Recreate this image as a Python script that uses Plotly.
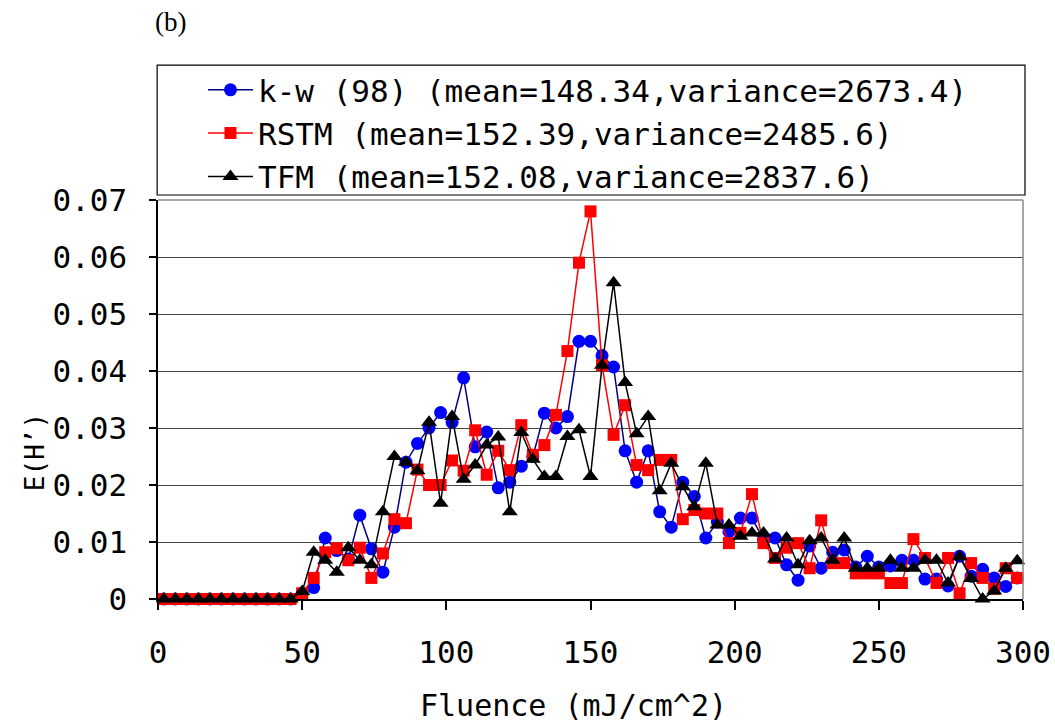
import plotly.graph_objects as go

fluence = [2, 6, 10, 14, 18, 22, 26, 30, 34, 38, 42, 46, 50, 54, 58, 62, 66, 70, 74, 78,
           82, 86, 90, 94, 98, 102, 106, 110, 114, 118, 122, 126, 130, 134, 138, 142, 146, 150, 154, 158,
           162, 166, 170, 174, 178, 182, 186, 190, 194, 198, 202, 206, 210, 214, 218, 222, 226, 230, 234, 238,
           242, 246, 250, 254, 258, 262, 266, 270, 274, 278, 282, 286, 290, 294, 298]

kw = [0, 0, 0, 0, 0, 0, 0, 0, 0, 0, 0, 0, 0.001, 0.002, 0.0107, 0.0085, 0.007, 0.0147, 0.0088, 0.0047,
      0.0126, 0.024, 0.0273, 0.030, 0.0327, 0.031, 0.0388, 0.0267, 0.0293, 0.0195, 0.0205, 0.0233, 0.025, 0.0326, 0.030, 0.032, 0.0452, 0.0452, 0.0427, 0.0407,
      0.026, 0.0205, 0.026, 0.0153, 0.0126, 0.0205, 0.018, 0.0107, 0.0135, 0.0118, 0.0142, 0.0142, 0.0104, 0.0107, 0.006, 0.0033, 0.0093, 0.0054, 0.0082, 0.0086,
      0.0056, 0.0075, 0.0056, 0.0058, 0.0068, 0.0068, 0.0035, 0.0035, 0.0023, 0.0075, 0.004, 0.0052, 0.0037, 0.0022, 0.0037]

rstm = [0, 0, 0, 0, 0, 0, 0, 0, 0, 0, 0, 0, 0.001, 0.0037, 0.0082, 0.0089, 0.0068, 0.009, 0.0037, 0.008,
        0.014, 0.0133, 0.0227, 0.020, 0.020, 0.0243, 0.0225, 0.0296, 0.0218, 0.026, 0.0226, 0.0305, 0.0253, 0.027, 0.0323, 0.0435, 0.059, 0.068, 0.041, 0.0288,
        0.034, 0.0235, 0.0226, 0.0244, 0.0244, 0.014, 0.0156, 0.015, 0.015, 0.0098, 0.0116, 0.0184, 0.0098, 0.0072, 0.009, 0.0098, 0.0054, 0.0138, 0.0063, 0.0063,
        0.0045, 0.0045, 0.0045, 0.0028, 0.0028, 0.0105, 0.0072, 0.0028, 0.0072, 0.001, 0.0063, 0.0037, 0.0018, 0.0054, 0.0037]

tfm = [0, 0, 0, 0, 0, 0, 0, 0, 0, 0, 0, 0, 0.0013, 0.0082, 0.0068, 0.0047, 0.009, 0.0068, 0.006, 0.0153,
       0.025, 0.024, 0.0225, 0.031, 0.0168, 0.032, 0.021, 0.0235, 0.027, 0.0284, 0.0153, 0.0292, 0.0245, 0.0215, 0.0215, 0.0285, 0.0297, 0.0215, 0.041, 0.0555,
       0.038, 0.029, 0.032, 0.019, 0.0238, 0.0197, 0.0162, 0.0238, 0.013, 0.013, 0.011, 0.0116, 0.0116, 0.007, 0.0107, 0.006, 0.0102, 0.0107, 0.0068, 0.0107,
       0.0054, 0.0054, 0.0054, 0.0068, 0.0054, 0.0054, 0.0068, 0.0068, 0.0028, 0.0074, 0.0036, 0, 0.0014, 0.0054, 0.0067]

series_names = ["k-w (98) (mean=148.34,variance=2673.4)",
                "RSTM (mean=152.39,variance=2485.6)",
                "TFM (mean=152.08,variance=2837.6)"]

y_tickvals = [0, 0.01, 0.02, 0.03, 0.04, 0.05, 0.06, 0.07]
y_ticktext = ["0", "0.01", "0.02", "0.03", "0.04", "0.05", "0.06", "0.07"]
x_tickvals = [0, 50, 100, 150, 200, 250, 300]

MONO = "DejaVu Sans Mono"

fig = go.Figure()
fig.add_trace(go.Scatter(x=fluence, y=kw, name=series_names[0], mode="lines+markers",
                         line=dict(color="#000080", width=1.5),
                         marker=dict(symbol="circle", size=13, color="#0000FF"),
                         cliponaxis=False))
fig.add_trace(go.Scatter(x=fluence, y=rstm, name=series_names[1], mode="lines+markers",
                         line=dict(color="#FF0000", width=1.5),
                         marker=dict(symbol="square", size=12, color="#FF0000"),
                         cliponaxis=False))
fig.add_trace(go.Scatter(x=fluence, y=tfm, name=series_names[2], mode="lines+markers",
                         line=dict(color="#000000", width=1.5),
                         marker=dict(symbol="triangle-up", size=14, color="#000000"),
                         cliponaxis=False))

fig.update_layout(
    width=1055, height=724,
    margin=dict(l=158, r=32, t=200, b=125, autoexpand=False),
    paper_bgcolor="white", plot_bgcolor="white",
    font=dict(family=MONO, color="black"),
    showlegend=True,
    legend=dict(x=0.052, y=1.343, xanchor="left", yanchor="top",
                font=dict(family=MONO, size=31, color="black"),
                bgcolor="rgba(0,0,0,0)", borderwidth=0, itemwidth=45,
                tracegroupgap=0),
    xaxis=dict(range=[0, 300], tickvals=x_tickvals, showgrid=False, zeroline=False,
               showline=True, linecolor="black", linewidth=1.5,
               ticks="outside", ticklen=9, tickcolor="black", tickwidth=1.5,
               ticklabelstandoff=16,
               tickfont=dict(family=MONO, size=31, color="black")),
    yaxis=dict(range=[0, 0.07], tickvals=y_tickvals, ticktext=y_ticktext,
               showgrid=True, gridcolor="#444444", gridwidth=1, zeroline=False,
               showline=True, linecolor="black", linewidth=1.5,
               ticks="outside", ticklen=7, tickcolor="black", tickwidth=1.5,
               ticklabelstandoff=16,
               tickfont=dict(family=MONO, size=31, color="black")),
    shapes=[
        dict(type="line", xref="paper", yref="paper", x0=1, x1=1, y0=0, y1=1,
             line=dict(color="#888888", width=1.5)),
        dict(type="line", xref="paper", yref="paper", x0=0, x1=1, y0=1, y1=1,
             line=dict(color="#888888", width=1.5)),
        dict(type="rect", xref="paper", yref="paper", x0=-0.001, x1=1.0023,
             y0=1.0125, y1=1.338, line=dict(color="black", width=1.2),
             fillcolor="rgba(0,0,0,0)"),
    ],
    annotations=[
        dict(text="(b)", xref="paper", yref="paper", x=0.0139, y=1.446,
             xanchor="center", yanchor="middle", showarrow=False,
             font=dict(family="Liberation Serif", size=27, color="black")),
        dict(text="Fluence (mJ/cm^2)", xref="paper", yref="paper", x=0.48, y=-0.2657,
             xanchor="center", yanchor="middle", showarrow=False,
             font=dict(family=MONO, size=30, color="black")),
        dict(text="E(H’)", xref="paper", yref="paper", x=-0.1422, y=0.368,
             xanchor="center", yanchor="middle", showarrow=False, textangle=-90,
             font=dict(family=MONO, size=26, color="black")),
    ],
)

fig.write_html("out.html")
